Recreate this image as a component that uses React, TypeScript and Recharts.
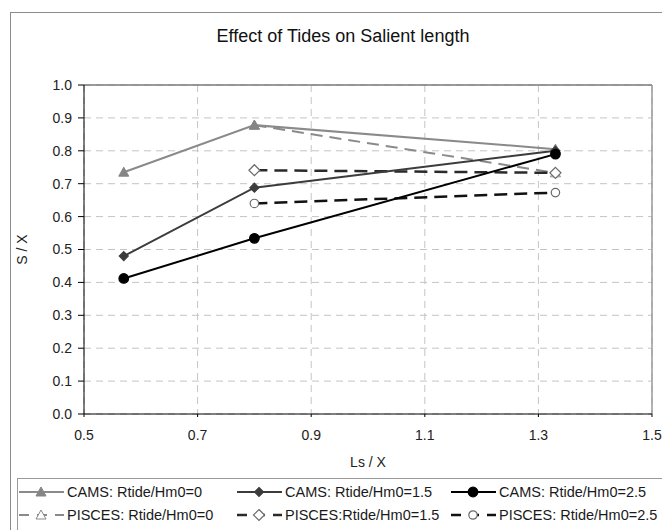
import React from "react";
import {
  LineChart,
  Line,
  XAxis,
  YAxis,
  CartesianGrid,
  ReferenceLine,
} from "recharts";

// values
const camsLs = [0.57, 0.8, 1.33];
const cams0 = [0.735, 0.878, 0.805];
const cams15 = [0.48, 0.688, 0.8];
const cams25 = [0.412, 0.534, 0.79];

const piscesLs = [0.8, 1.33];
const pisces0 = [0.878, 0.733];
const pisces15 = [0.741, 0.733];
const pisces25 = [0.64, 0.673];

const xTicks = [0.5, 0.7, 0.9, 1.1, 1.3, 1.5];
const yTicks = [0, 0.1, 0.2, 0.3, 0.4, 0.5, 0.6, 0.7, 0.8, 0.9, 1.0];

const FONT = '"Liberation Sans", Arial, sans-serif';

type Marker = "triangle" | "diamond" | "circle";

interface Series {
  name: string;
  xs: number[];
  ys: number[];
  color: string;
  markerStroke: string;
  marker: Marker;
  filled: boolean;
  dash?: string;
  width: number;
}

const series: Series[] = [
  { name: "CAMS: Rtide/Hm0=0", xs: camsLs, ys: cams0, color: "#8a8a8a", markerStroke: "#858585", marker: "triangle", filled: true, width: 2 },
  { name: "CAMS: Rtide/Hm0=1.5", xs: camsLs, ys: cams15, color: "#3c3c3c", markerStroke: "#3c3c3c", marker: "diamond", filled: true, width: 2 },
  { name: "CAMS: Rtide/Hm0=2.5", xs: camsLs, ys: cams25, color: "#000000", markerStroke: "#000000", marker: "circle", filled: true, width: 2 },
  { name: "PISCES: Rtide/Hm0=0", xs: piscesLs, ys: pisces0, color: "#8a8a8a", markerStroke: "#8a8a8a", marker: "triangle", filled: false, dash: "12 7", width: 2 },
  { name: "PISCES:Rtide/Hm0=1.5", xs: piscesLs, ys: pisces15, color: "#2a2a2a", markerStroke: "#6a6a6a", marker: "diamond", filled: false, dash: "13 7", width: 2.5 },
  { name: "PISCES: Rtide/Hm0=2.5", xs: piscesLs, ys: pisces25, color: "#111111", markerStroke: "#6a6a6a", marker: "circle", filled: false, dash: "13 7", width: 2.5 },
];

// dashed series underneath, solid ones on top
const drawOrder = [3, 4, 5, 0, 1, 2];

function markerShape(s: Series, cx: number, cy: number, key?: React.Key) {
  const fill = s.filled ? s.markerStroke : "#ffffff";
  if (s.marker === "triangle") {
    const r = 5;
    return (
      <path
        key={key}
        d={`M${cx},${cy - r} L${cx + r},${cy + r * 0.8} L${cx - r},${cy + r * 0.8} Z`}
        fill={fill}
        stroke={s.markerStroke}
        strokeWidth={1}
      />
    );
  }
  if (s.marker === "diamond") {
    const r = s.filled ? 4.5 : 5.5;
    return (
      <path
        key={key}
        d={`M${cx},${cy - r} L${cx + r},${cy} L${cx},${cy + r} L${cx - r},${cy} Z`}
        fill={fill}
        stroke={s.markerStroke}
        strokeWidth={1.2}
      />
    );
  }
  return (
    <circle
      key={key}
      cx={cx}
      cy={cy}
      r={s.filled ? 4.8 : 4.2}
      fill={fill}
      stroke={s.markerStroke}
      strokeWidth={1.2}
    />
  );
}

function LegendBox() {
  const colX = [0, 218, 432];
  return (
    <div
      style={{
        position: "absolute",
        left: 17,
        top: 478,
        width: 700,
        height: 80,
        border: "1px solid #9a9a9a",
        background: "#fff",
      }}
    >
      {series.map((s, i) => {
        const col = i % 3;
        const row = Math.floor(i / 3);
        return (
          <div
            key={s.name}
            style={{
              position: "absolute",
              left: colX[col] + 1,
              top: 4 + row * 23,
              height: 18,
              display: "flex",
              alignItems: "center",
              whiteSpace: "nowrap",
              fontFamily: FONT,
              fontSize: 14.5,
              color: "#1a1a1a",
            }}
          >
            <svg width={45} height={18} style={{ marginRight: 3 }}>
              <line
                x1={0}
                x2={45}
                y1={9}
                y2={9}
                stroke={s.color}
                strokeWidth={s.width}
                strokeDasharray={s.dash ? "10 8" : undefined}
              />
              {markerShape(s, 22, 9)}
            </svg>
            <span>{s.name}</span>
          </div>
        );
      })}
    </div>
  );
}

export default function App() {
  return (
    <div
      style={{
        position: "absolute",
        left: 0,
        top: 0,
        width: 662,
        height: 530,
        overflow: "hidden",
        background: "#fff",
        fontFamily: FONT,
      }}
    >
      <div
        style={{
          position: "absolute",
          left: 10,
          top: 12,
          width: 720,
          height: 600,
          border: "1px solid #8c8c8c",
        }}
      />
      <div
        style={{
          position: "absolute",
          left: 0,
          width: 686,
          top: 26,
          textAlign: "center",
          fontSize: 18,
          color: "#111",
        }}
      >
        Effect of Tides on Salient length
      </div>
      <div style={{ position: "absolute", left: 0, top: 0 }}>
        <LineChart width={662} height={530} margin={{ top: 85, right: 10, left: 24, bottom: 76 }}>
          <CartesianGrid stroke="#c4c4c4" strokeDasharray="7 5" />
          <XAxis
            type="number"
            dataKey="x"
            domain={[0.5, 1.5]}
            ticks={xTicks}
            tickFormatter={(v: number) => v.toFixed(1)}
            height={40}
            stroke="#000"
            tickSize={3}
            tickMargin={13}
            tick={{ fill: "#222", fontSize: 14, fontFamily: FONT }}
            label={{ value: "Ls / X", position: "insideBottom", offset: -13, fill: "#222", fontSize: 14, fontFamily: FONT }}
            allowDataOverflow
          />
          <YAxis
            type="number"
            domain={[0, 1]}
            ticks={yTicks}
            tickFormatter={(v: number) => v.toFixed(1)}
            width={60}
            stroke="#000"
            tickSize={6}
            tickMargin={6}
            tick={{ fill: "#222", fontSize: 14, fontFamily: FONT }}
            label={{ value: "S / X", angle: -90, position: "insideLeft", offset: -2, fill: "#222", fontSize: 14, fontFamily: FONT, style: { textAnchor: "middle" } }}
            allowDataOverflow
          />
          <ReferenceLine y={1} stroke="#7a7a7a" strokeWidth={1.5} ifOverflow="visible" />
          <ReferenceLine x={1.5} stroke="#9a9a9a" strokeWidth={1.5} ifOverflow="visible" />
          {drawOrder.map((idx) => {
            const s = series[idx];
            return (
              <Line
                key={s.name}
                data={s.xs.map((x, i) => ({ x, y: s.ys[i] }))}
                dataKey="y"
                name={s.name}
                type="linear"
                stroke={s.color}
                strokeWidth={s.width}
                strokeDasharray={s.dash}
                dot={(p: any) => markerShape(s, p.cx, p.cy, `${s.name}-${p.index}`)}
                activeDot={false}
                isAnimationActive={false}
              />
            );
          })}
        </LineChart>
      </div>
      <LegendBox />
    </div>
  );
}
